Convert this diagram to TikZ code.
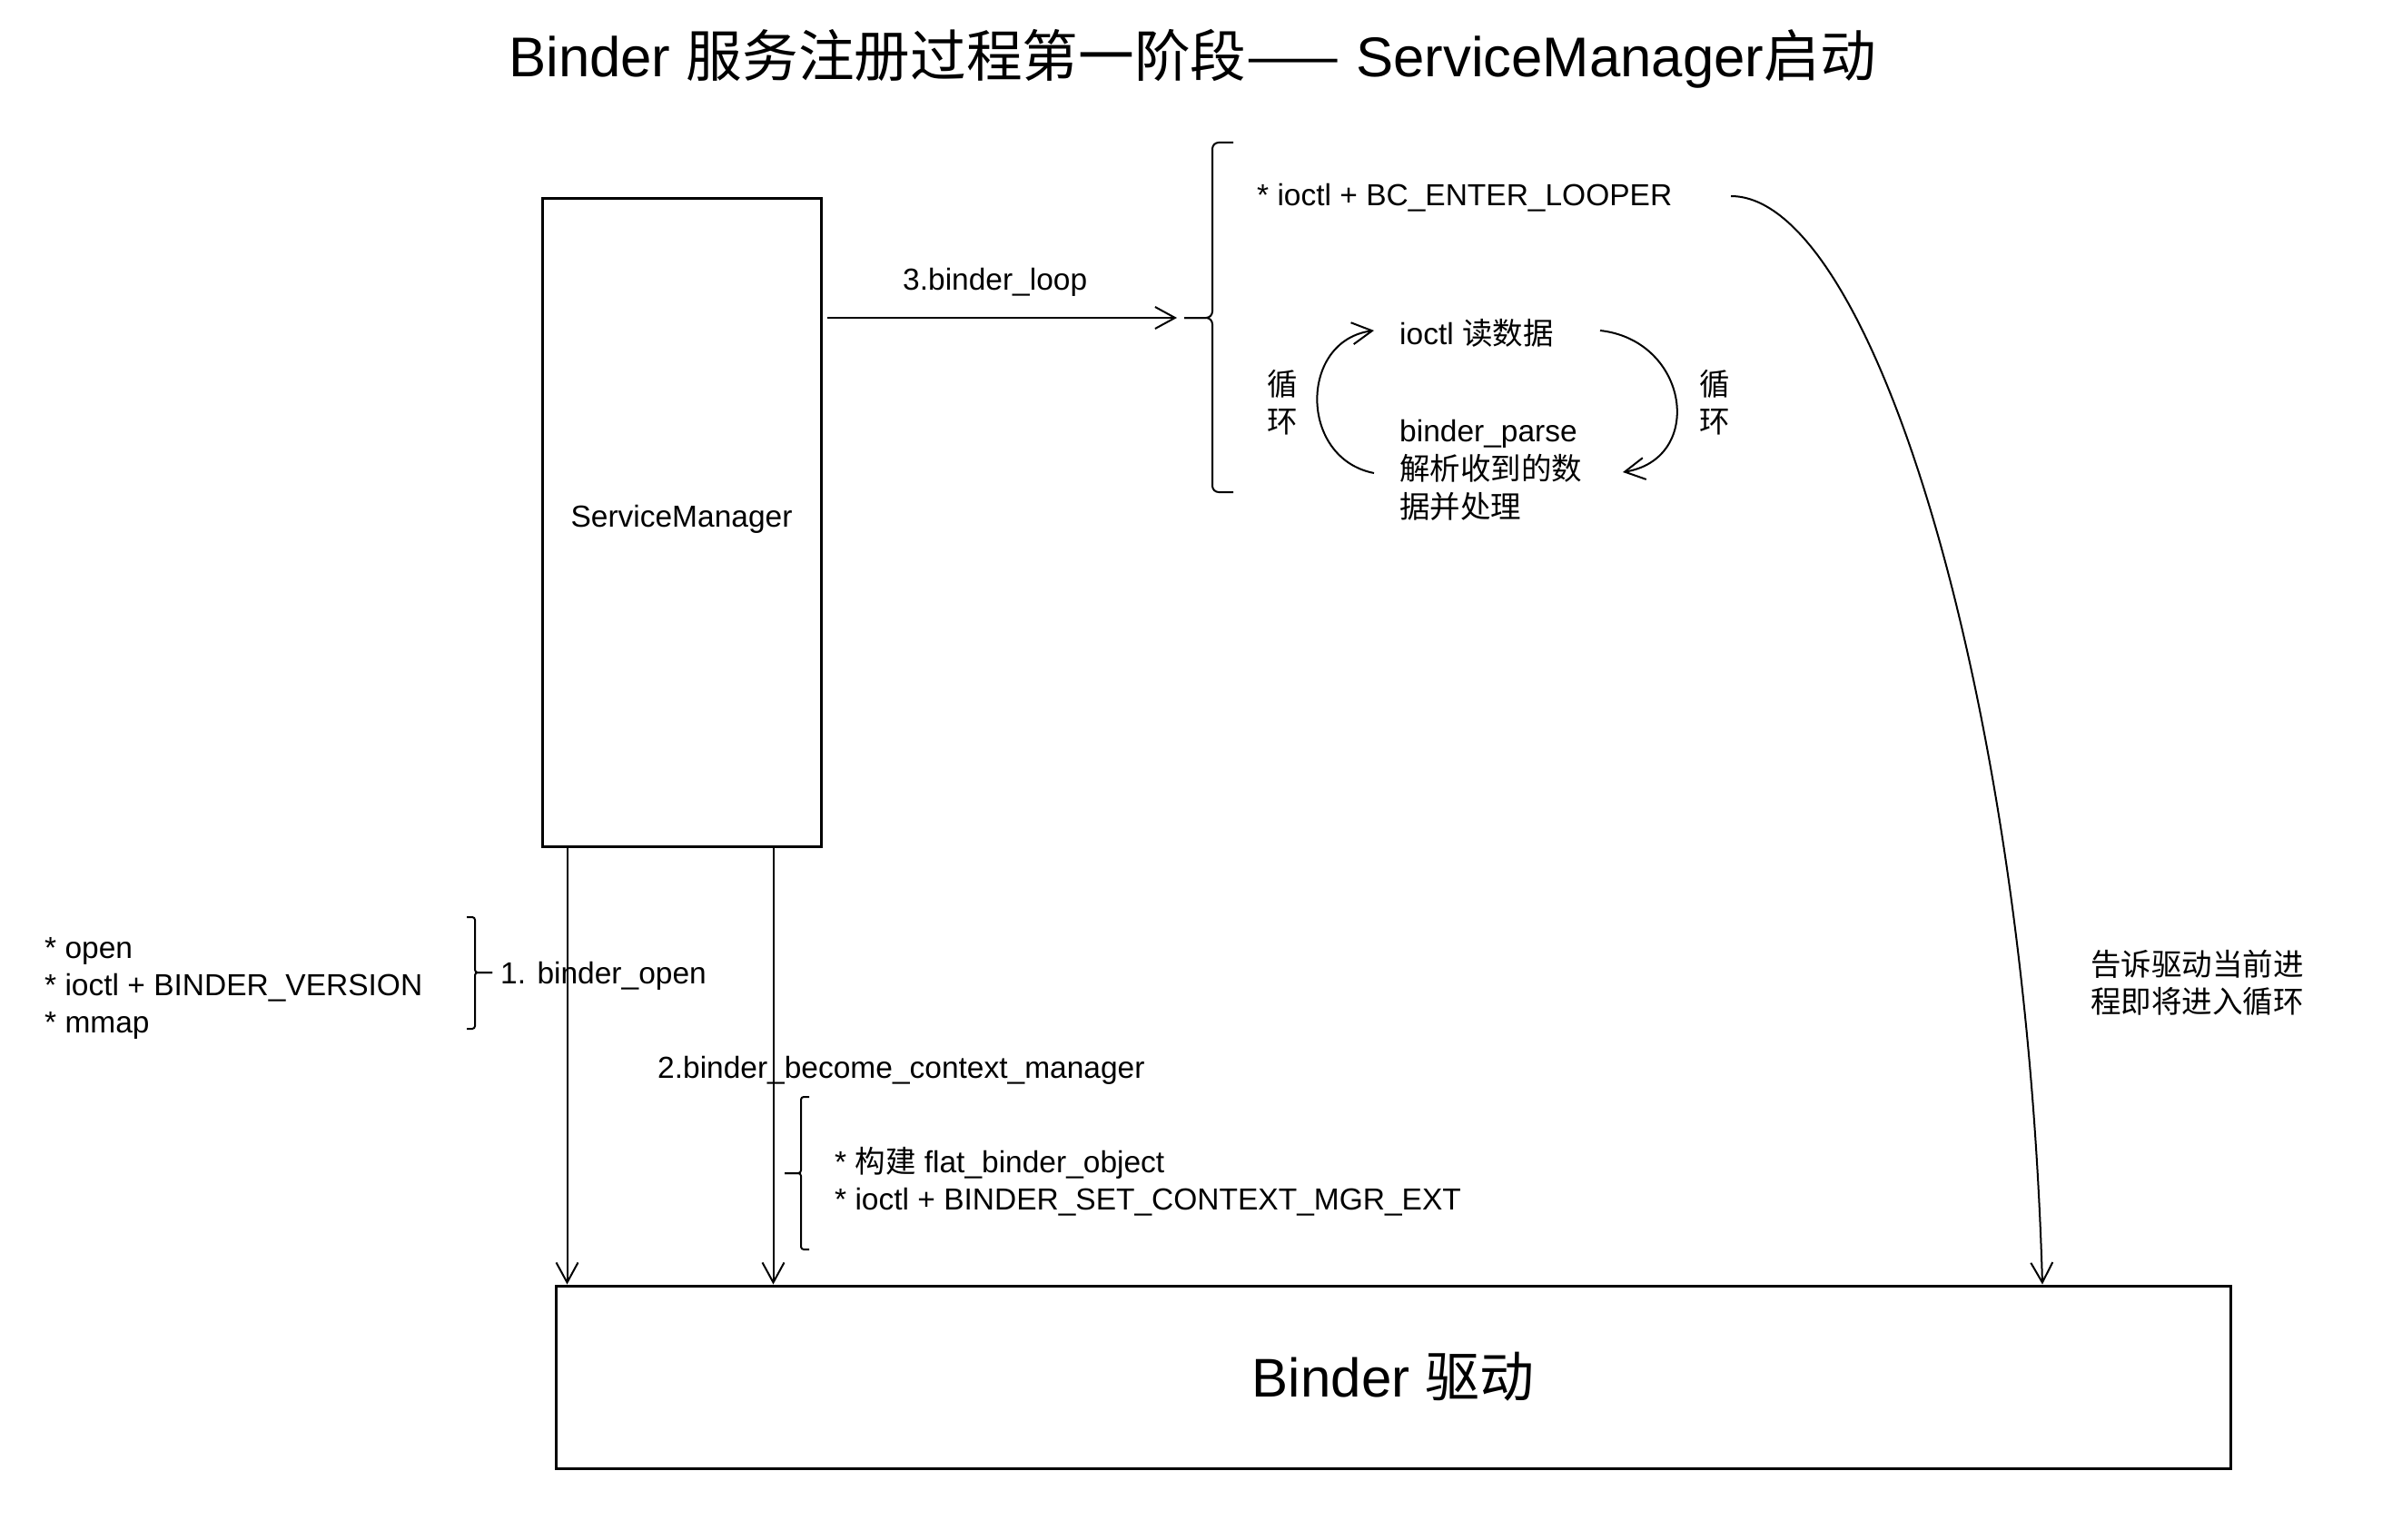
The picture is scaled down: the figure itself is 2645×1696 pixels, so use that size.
\documentclass[tikz,border=0pt]{standalone}
\usepackage{fontspec}
\setmainfont{Liberation Sans}
\newfontfamily\cjk{Noto Sans CJK SC}
\usetikzlibrary{arrows.meta,calc}
\tikzset{
  txt/.style={inner sep=0pt, font=\fontsize{33.5}{41}\selectfont, align=left},
  box/.style={draw, line width=3pt, inner sep=0pt},
  conn/.style={line width=2pt, -{Straight Barb[length=22pt,width=24pt]}},
  brk/.style={line width=2pt, rounded corners=7pt},
  sbrk/.style={line width=2pt, rounded corners=3pt},
}
\begin{document}
\begin{tikzpicture}[x=1pt,y=-1pt]
\useasboundingbox (0,0) rectangle (2645,1696);
\fill[white] (0,0) rectangle (2645,1696);

% title
\node[inner sep=0pt, font=\fontsize{61.7}{70}\selectfont] (title) at (1313,65)
  {Binder {\cjk 服务注册过程第一阶段——} ServiceManager{\cjk 启动}};

% boxes
\node[box, minimum width=307pt, minimum height=713pt, text depth=14pt, font=\fontsize{33.5}{40}\selectfont] (sm) at (750.5,575.5) {ServiceManager};
\node[box, minimum width=1844pt, minimum height=201pt, font=\fontsize{60}{68}\selectfont] (drv) at (1534,1516.5) {Binder {\cjk 驱动}};

% step 3
\coordinate (bt) at (1304,350);
\coordinate (a3) at (sm.east |- bt);
\draw[conn] ([xshift=5pt]a3) -- ([xshift=-8pt]bt);
\node[txt, anchor=west] (l3) at (994,311) {3.binder\_loop};

\draw[brk] (1358,157) -- (1335,157) -- (1335,350) -- (bt);
\draw[brk] (bt) -- (1335,350) -- (1335,542) -- (1358,542);

\node[txt, anchor=west] (looper) at (1384,218) {* ioctl + BC\_ENTER\_LOOPER};
\node[txt, anchor=west] (rd) at (1541,367) {ioctl {\cjk 读数据}};
\node[txt, anchor=west, font=\fontsize{33.5}{42}\selectfont] (parse) at (1541,518) {binder\_parse\\{\cjk 解析收到的数}\\{\cjk 据并处理}};
\node[txt, align=center] (lp1) at (1412,443) {{\cjk 循}\\{\cjk 环}};
\node[txt, align=center] (lp2) at (1888,443) {{\cjk 循}\\{\cjk 环}};

\draw[conn] ([xshift=-28pt,yshift=-3pt]parse.west) .. controls (1430,505) and (1430,375) .. ([xshift=-28pt,yshift=3pt]rd.west);
\draw[conn] ([xshift=221pt,yshift=3pt]rd.west) .. controls (1860,375) and (1878,505) .. ([xshift=246pt,yshift=-2pt]parse.west);

% curve to driver
\coordinate (ct) at (2249,0);
\coordinate (cs) at (1906,216);
\draw[conn] (cs) .. controls (2060,216) and (2230,760) .. (ct |- drv.north);
\node[txt, anchor=west] (tell) at (2302,1082) {{\cjk 告诉驱动当前进}\\{\cjk 程即将进入循环}};

% steps 1 and 2
\coordinate (d1) at ([xshift=29pt]sm.south west);
\coordinate (d2) at ([xshift=256pt]sm.south west);
\draw[conn] (d1) -- (d1 |- drv.north);
\draw[conn] (d2) -- (d2 |- drv.north);

\coordinate (b1) at (542,1071);
\draw[sbrk] (514,1010) -- (523,1010) -- (523,1071) -- (b1);
\draw[sbrk] (b1) -- (523,1071) -- (523,1133) -- (514,1133);
\node[txt, anchor=west] (l1) at (551,1075) {1. binder\_open};
\node[txt, anchor=west] (ops) at (49,1088) {* open\\* ioctl + BINDER\_VERSION\\* mmap};

\node[txt, anchor=west] (l2) at (724,1179) {2.binder\_become\_context\_manager};
\coordinate (b2) at (864,1292);
\draw[sbrk] (891,1208) -- (882,1208) -- (882,1292) -- (b2);
\draw[sbrk] (b2) -- (882,1292) -- (882,1376) -- (891,1376);
\node[txt, anchor=west] (ops2) at (919,1301) {* {\cjk 构建} flat\_binder\_object\\* ioctl + BINDER\_SET\_CONTEXT\_MGR\_EXT};
\end{tikzpicture}
\end{document}
